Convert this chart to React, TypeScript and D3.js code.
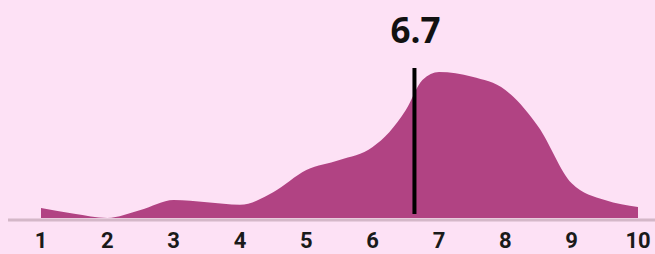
import React, { useEffect, useRef } from 'react';
import * as d3 from 'd3';

// density of ratings, sampled every half point
const ratingSteps = [1, 1.5, 2, 2.5, 3, 3.5, 4, 4.5, 5, 5.5, 6, 6.25, 6.5, 6.75, 7, 7.5, 8, 8.5, 9, 9.5, 10];
const densityValues = [0.019, 0.008, 0.0, 0.015, 0.034, 0.030, 0.025, 0.049, 0.091, 0.110, 0.135, 0.163, 0.205, 0.262, 0.277, 0.268, 0.243, 0.173, 0.066, 0.034, 0.021];
const tickLabels = [1, 2, 3, 4, 5, 6, 7, 8, 9, 10];
const meanValue = 6.63;
const meanLabel = '6.7';

const App = () => {
  const ref = useRef<SVGSVGElement | null>(null);

  useEffect(() => {
    if (!ref.current) return;
    const width = 655, height = 254;
    const svg = d3.select(ref.current);
    svg.selectAll('*').remove();

    svg.append('rect')
      .attr('width', width)
      .attr('height', height)
      .attr('fill', '#fde1f5');

    const x = d3.scaleLinear().domain([1, 10]).range([41, 638]);
    const y = d3.scaleLinear().domain([0, 0.3]).range([218, 60]);

    const data = ratingSteps.map((r, i) => [r, densityValues[i]] as [number, number]);

    const area = d3.area<[number, number]>()
      .x(d => x(d[0]))
      .y0(y(0))
      .y1(d => y(d[1]))
      .curve(d3.curveMonotoneX);

    svg.append('path')
      .datum(data)
      .attr('d', area)
      .attr('fill', '#b14383');

    // baseline
    svg.append('line')
      .attr('x1', 8)
      .attr('x2', width)
      .attr('y1', 220)
      .attr('y2', 220)
      .attr('stroke', '#d4b7c8')
      .attr('stroke-width', 3);

    // mean marker
    svg.append('line')
      .attr('x1', x(meanValue))
      .attr('x2', x(meanValue))
      .attr('y1', 68)
      .attr('y2', 214)
      .attr('stroke', '#000')
      .attr('stroke-width', 4);

    svg.append('text')
      .attr('x', x(meanValue) + 1)
      .attr('y', 43)
      .attr('text-anchor', 'middle')
      .attr('font-family', '"Open Sans", sans-serif')
      .attr('font-weight', 700)
      .attr('font-size', 35)
      .attr('fill', '#111')
      .text(meanLabel);

    svg.selectAll('text.tick')
      .data(tickLabels)
      .enter()
      .append('text')
      .attr('class', 'tick')
      .attr('x', d => x(d))
      .attr('y', 248)
      .attr('text-anchor', 'middle')
      .attr('font-family', 'Roboto, sans-serif')
      .attr('font-weight', 700)
      .attr('font-size', 22)
      .attr('fill', '#1a1a1a')
      .text(d => d);
  }, []);

  return (
    <svg ref={ref} width={655} height={254} style={{ position: 'absolute', left: 0, top: 0, display: 'block' }} />
  );
};

export default App;
